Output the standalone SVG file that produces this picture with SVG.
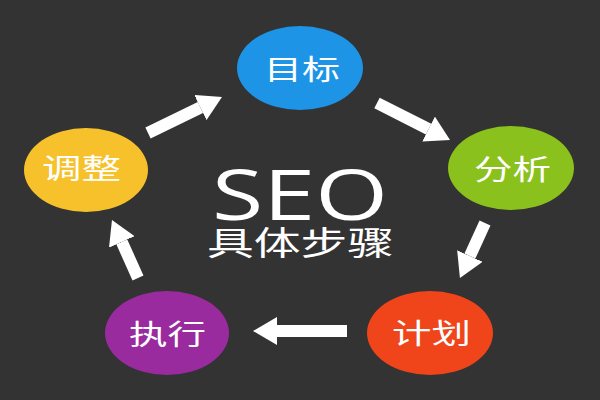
<svg xmlns="http://www.w3.org/2000/svg" width="600" height="400" viewBox="0 0 600 400">
<style>
.lbl{font-family:"Noto Sans CJK SC","Noto Sans",sans-serif;font-size:28px;fill:#ffffff;}
.conn{stroke:#ffffff;stroke-width:12;fill:none;marker-end:url(#ah);}
</style>
<defs>
<marker id="ah" markerUnits="userSpaceOnUse" markerWidth="24" markerHeight="28" viewBox="0 0 24 28" refX="0" refY="14" orient="auto">
<path d="M0,0 L24,14 L0,28 Z" fill="#ffffff"/>
</marker>
</defs>
<rect width="600" height="400" fill="#333333"/>
<g id="title">
<text x="212" y="220" textLength="176" lengthAdjust="spacingAndGlyphs" style="font-family:'Open Sans','Noto Sans',sans-serif;font-size:70px;fill:#ffffff">SEO</text>
<text x="207" y="255" textLength="187" lengthAdjust="spacingAndGlyphs" style="font-family:'Noto Sans CJK SC',sans-serif;font-size:33px;fill:#ffffff">具体步骤</text>
</g>
<g id="connectors">
<line class="conn" x1="148" y1="133" x2="200.4" y2="107.5"/>
<line class="conn" x1="377" y1="103" x2="428.6" y2="129.1"/>
<line class="conn" x1="485" y1="223" x2="469.9" y2="256.1"/>
<line class="conn" x1="347" y1="331" x2="277" y2="331"/>
<line class="conn" x1="138" y1="278" x2="121.8" y2="241.9"/>
</g>
<g id="node-mubiao">
<ellipse cx="300" cy="68" rx="63" ry="42" fill="#1d94e6"/>
<text class="lbl" x="264" y="80" textLength="76" lengthAdjust="spacingAndGlyphs">目标</text>
</g>
<g id="node-fenxi">
<ellipse cx="511" cy="168" rx="63" ry="42" fill="#8bc11d"/>
<text class="lbl" x="474" y="180" textLength="77" lengthAdjust="spacingAndGlyphs">分析</text>
</g>
<g id="node-jihua">
<ellipse cx="430" cy="333" rx="63" ry="42" fill="#f0441a"/>
<text class="lbl" x="392" y="344" textLength="79" lengthAdjust="spacingAndGlyphs">计划</text>
</g>
<g id="node-zhixing">
<ellipse cx="167" cy="333" rx="62" ry="42" fill="#992b9f"/>
<text class="lbl" x="129" y="345" textLength="77" lengthAdjust="spacingAndGlyphs">执行</text>
</g>
<g id="node-tiaozheng">
<ellipse cx="86" cy="170" rx="62" ry="42" fill="#f6c12a"/>
<text class="lbl" x="42" y="179" textLength="79" lengthAdjust="spacingAndGlyphs">调整</text>
</g>
</svg>
